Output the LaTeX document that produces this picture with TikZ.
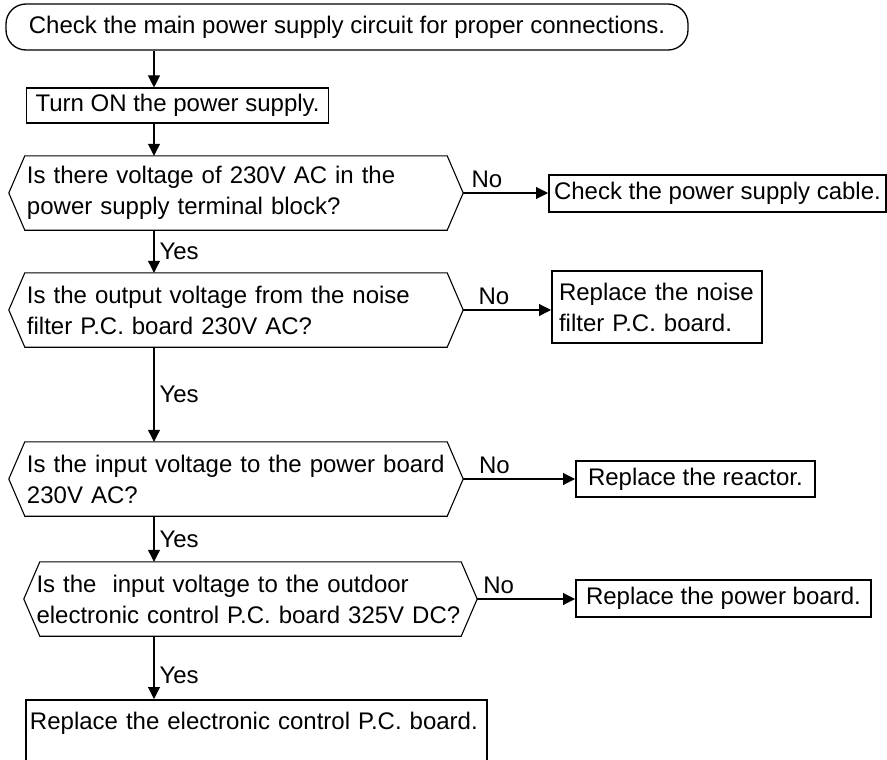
\documentclass[tikz,border=0pt]{standalone}
\usepackage{fontspec}
\setmainfont{Liberation Sans}
\usetikzlibrary{arrows.meta}

\begin{document}
\begin{tikzpicture}[
    x=1pt, y=-1pt,
    font=\fontsize{24}{31}\selectfont,
    terminal/.style={draw, line width=1.3pt, rounded corners=20pt,
        minimum width=682pt, minimum height=46pt, inner sep=0pt},
    stepbox/.style={draw, line width=1.1pt, inner xsep=9pt, minimum height=35pt},
    decision/.style={text width=418pt, inner xsep=18pt, inner ysep=0pt,
        align=left, minimum height=74pt},
    outcome/.style={draw, line width=2pt, minimum height=37pt, anchor=west},
    flow/.style={-{Triangle[length=12pt, width=12pt]}, line width=1.1pt},
    lab/.style={inner sep=5pt}
]
\useasboundingbox (0,0) rectangle (887,760);

% --- Main column ---
\coordinate (spine) at (154,0);
\node[terminal] (start) at (347,27) {Check the main power supply circuit for proper connections.};
\node[stepbox, anchor=west] (turnon) at (26,105.5) {Turn ON the power supply.};

% --- Checks ---
\node[decision] (q1) at (236,193) {Is there voltage of 230V AC in the\\power supply terminal block?};
\node[decision] (q2) at (236,310) {Is the output voltage from the noise\\filter P.C. board 230V AC?};
\node[decision] (q3) at (236,479) {Is the input voltage to the power board\\230V AC?};
\node[decision, text width=428pt, inner xsep=12.5pt] (q4) at (250.5,599)
    {Is the~ input voltage to the outdoor\\electronic control P.C. board 325V DC?};

\foreach \q in {q1,q2,q3,q4}
    \draw[line width=1.1pt] (\q.west) -- ([xshift=16pt]\q.north west) -- ([xshift=-16pt]\q.north east)
        -- (\q.east) -- ([xshift=-16pt]\q.south east) -- ([xshift=16pt]\q.south west) -- cycle;

% --- Remedies ---
\node[outcome, inner xsep=5pt] (cable) at (548,193) {Check the power supply cable.};
\node[outcome, inner xsep=7pt, text width=196pt, align=left, minimum height=72pt] (noise) at (551,307)
    {Replace the noise\\filter P.C. board.};
\node[outcome, inner xsep=12pt, minimum height=36pt] (reactor) at (575,479) {Replace the reactor.};
\node[outcome, inner xsep=10pt] (pboard) at (575,598) {Replace the power board.};
\node[draw, line width=2pt, anchor=north west, text width=453pt, inner xsep=4pt, inner ysep=9pt,
    align=left, text height=20pt, text depth=60pt] (pcb) at (25,699)
    {Replace the electronic control P.C. board.};

% --- Yes path ---
\draw[flow] (start.south -| spine) -- (turnon.north -| spine);
\draw[flow] (turnon.south -| spine) -- (q1.north -| spine);
\draw[flow] (q1.south -| spine) -- node[lab, right] {Yes} (q2.north -| spine);
\draw[flow] (q2.south -| spine) -- node[lab, right] {Yes} (q3.north -| spine);
\draw[flow] (q3.south -| spine) -- node[lab, right] {Yes} (q4.north -| spine);
\draw[flow] (q4.south -| spine) -- node[lab, right, pos=0.63] {Yes} (pcb.north -| spine);

% --- No branches ---
\draw[flow] (q1.east) -- node[lab, above, pos=0.28] {No} (cable.west);
\draw[flow] (q2.east) -- node[lab, above, pos=0.35] {No} (q2.east -| noise.west);
\draw[flow] (q3.east) -- node[lab, above, pos=0.28] {No} (reactor.west);
\draw[flow] (q4.east) -- node[lab, above, pos=0.22] {No} (q4.east -| pboard.west);

\end{tikzpicture}
\end{document}
